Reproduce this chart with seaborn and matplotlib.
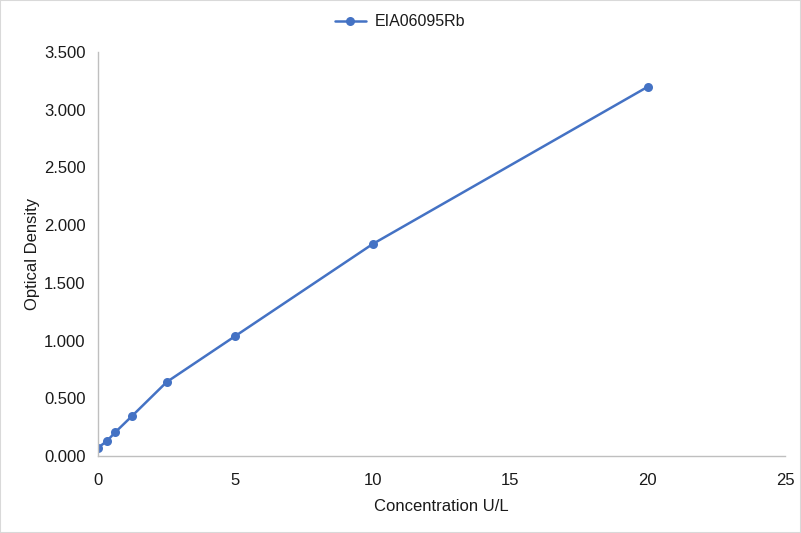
import numpy as np
import matplotlib
matplotlib.use('Agg')
import matplotlib.pyplot as plt
import pandas as pd
import seaborn as sns

# data
conc = [0, 0.3125, 0.625, 1.25, 2.5, 5, 10, 20]
od = [0.072, 0.127, 0.205, 0.349, 0.641, 1.040, 1.837, 3.198]
series_name = 'EIA06095Rb'

df = pd.DataFrame({'Concentration U/L': conc, 'Optical Density': od})

sns.set_theme(style='white')
plt.rcParams['font.family'] = ['Liberation Sans', 'DejaVu Sans']

fig = plt.figure(figsize=(8.01, 5.33), dpi=100)
ax = fig.add_axes([98/801, 77/533, (785-98)/801, (456-52)/533])
color = '#4472C4'
sns.lineplot(data=df, x='Concentration U/L', y='Optical Density', ax=ax,
             color=color, marker='o', markersize=6.5, markeredgewidth=0,
             linewidth=1.8, label=series_name)

txt = '#1a1a1a'
ax.set_xlim(0, 25)
ax.set_ylim(0, 3.5)
ax.set_xticks(np.arange(0, 26, 5))
ax.set_yticks(np.arange(0, 3.51, 0.5))
ax.set_yticklabels([f'{v:.3f}' for v in np.arange(0, 3.51, 0.5)])
ax.tick_params(labelsize=12, colors=txt, length=0)
ax.tick_params(axis='x', pad=12)
ax.tick_params(axis='y', pad=9)
ax.set_xlabel('Concentration U/L', fontsize=12, color=txt, labelpad=8)
ax.set_ylabel('Optical Density', fontsize=12, color=txt, labelpad=3)

for s in ['top', 'right']:
    ax.spines[s].set_visible(False)
for s in ['left', 'bottom']:
    ax.spines[s].set_color('#BFBFBF')
    ax.spines[s].set_linewidth(1)

leg = fig.legend(*ax.get_legend_handles_labels(), loc='center',
                 bbox_to_anchor=(0.5, 1 - 22/533), frameon=False,
                 fontsize=11.5, handlelength=1.9, handletextpad=0.6)
ax.get_legend().remove()
for t in leg.get_texts():
    t.set_color(txt)

fig.patches.append(plt.Rectangle((0, 0), 1, 1, transform=fig.transFigure,
                                 fill=False, edgecolor='#D9D9D9', linewidth=1.5))
fig.savefig('out.png', dpi=100)
